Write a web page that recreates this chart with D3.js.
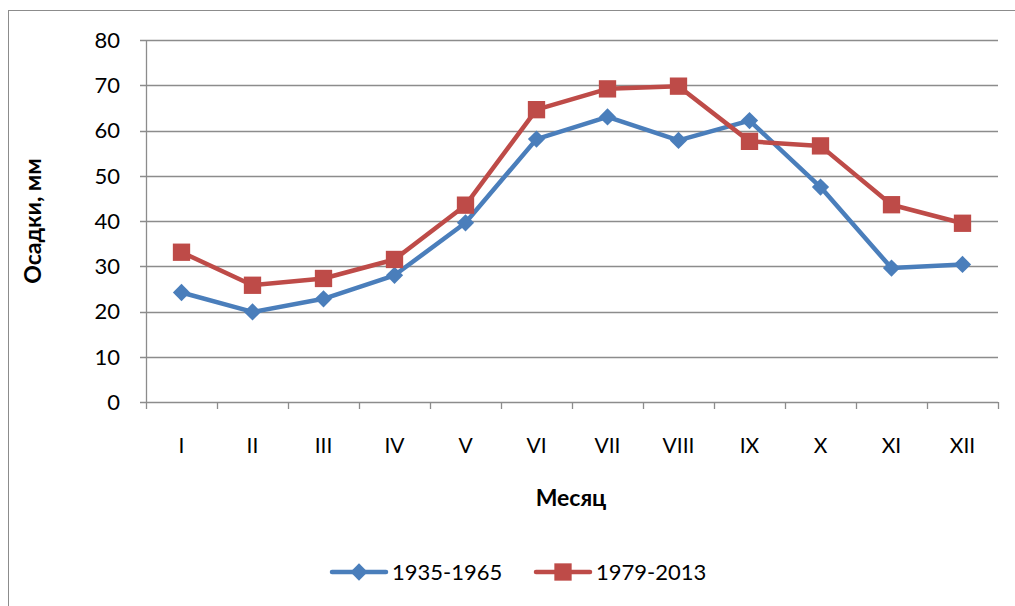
<!DOCTYPE html>
<html>
<head>
<meta charset="utf-8">
<script src="https://cdn.jsdelivr.net/npm/d3@7"></script>
<style>
  body { margin: 0; background: #fff; }
  svg { font-family: Lato, "Open Sans", sans-serif; }
</style>
</head>
<body>
<div id="chart"></div>
<script>
let months = ["I", "II", "III", "IV", "V", "VI", "VII", "VIII", "IX", "X", "XI", "XII"];
let series_old = [24.2, 19.9, 22.8, 28.0, 39.6, 58.1, 63.0, 57.8, 62.2, 47.5, 29.6, 30.4];
let series_new = [33.1, 25.8, 27.3, 31.5, 43.5, 64.6, 69.2, 69.8, 57.6, 56.6, 43.6, 39.5];
let series_names = ["1935-1965", "1979-2013"];
let y_ticks = [0, 10, 20, 30, 40, 50, 60, 70, 80];

let width = 1015, height = 606;
let margin = {left: 146, right: 17, top: 40, bottom: 204};

let svg = d3.select("#chart").append("svg")
  .attr("width", width)
  .attr("height", height);

// outer frame of the chart
svg.append("rect")
  .attr("x", 8.5).attr("y", 10.5)
  .attr("width", width + 20).attr("height", height + 20)
  .attr("fill", "none")
  .attr("stroke", "#8c8c8c")
  .attr("stroke-width", 1);

let x = d3.scaleBand()
  .domain(months)
  .range([margin.left, width - margin.right]);

let y = d3.scaleLinear()
  .domain([0, 80])
  .range([height - margin.bottom, margin.top]);

// grid lines
svg.append("g")
  .selectAll("line")
  .data(y_ticks)
  .enter().append("line")
  .attr("x1", margin.left - 6)
  .attr("x2", width - margin.right)
  .attr("y1", d => Math.round(y(d)) + 0.5)
  .attr("y2", d => Math.round(y(d)) + 0.5)
  .attr("stroke", "#8c8c8c")
  .attr("stroke-width", 1.3);

// y axis line
svg.append("line")
  .attr("x1", margin.left + 0.5).attr("x2", margin.left + 0.5)
  .attr("y1", y(80)).attr("y2", y(0))
  .attr("stroke", "#8c8c8c")
  .attr("stroke-width", 1.3);

// y tick labels
svg.append("g")
  .selectAll("text")
  .data(y_ticks)
  .enter().append("text")
  .attr("x", margin.left - 26)
  .attr("y", d => y(d))
  .attr("dy", "0.36em")
  .attr("text-anchor", "end")
  .attr("font-size", 22)
  .text(d => d);

// x tick marks
let x_bounds = months.map(m => x(m)).concat([width - margin.right]);
svg.append("g")
  .selectAll("line")
  .data(x_bounds)
  .enter().append("line")
  .attr("x1", d => Math.round(d) + 0.5)
  .attr("x2", d => Math.round(d) + 0.5)
  .attr("y1", y(0))
  .attr("y2", y(0) + 7)
  .attr("stroke", "#8c8c8c")
  .attr("stroke-width", 1.3);

// x tick labels
svg.append("g")
  .selectAll("text")
  .data(months)
  .enter().append("text")
  .attr("x", d => x(d) + x.bandwidth() / 2)
  .attr("y", 453)
  .attr("text-anchor", "middle")
  .attr("font-size", 21)
  .text(d => d);

// axis titles
svg.append("text")
  .attr("x", 571).attr("y", 506)
  .attr("text-anchor", "middle")
  .attr("font-size", 23)
  .attr("font-weight", "bold")
  .text("Месяц");

svg.append("text")
  .attr("transform", "translate(41,221) rotate(-90)")
  .attr("text-anchor", "middle")
  .attr("font-size", 23)
  .attr("font-weight", "bold")
  .text("Осадки, мм");

let colors = ["#4a7ebb", "#be4b48"];
let all_series = [series_old, series_new];

let line = d3.line()
  .x((d, i) => x(months[i]) + x.bandwidth() / 2)
  .y(d => y(d));

let diamond = d3.symbol().type(d3.symbolDiamond2).size(190);
let square = d3.symbol().type(d3.symbolSquare).size(300);
let symbols = [diamond, square];

all_series.forEach(function(s, k) {
  svg.append("path")
    .datum(s)
    .attr("d", line)
    .attr("fill", "none")
    .attr("stroke", colors[k])
    .attr("stroke-width", 4.5)
    .attr("stroke-linejoin", "round");
});

all_series.forEach(function(s, k) {
  svg.append("g")
    .selectAll("path")
    .data(s)
    .enter().append("path")
    .attr("d", symbols[k])
    .attr("transform", (d, i) => "translate(" + (x(months[i]) + x.bandwidth() / 2) + "," + y(d) + ")")
    .attr("fill", colors[k]);
});

// legend
let legend_x = [332, 536];
series_names.forEach(function(name, k) {
  let g = svg.append("g").attr("transform", "translate(" + legend_x[k] + ",572)");
  g.append("line")
    .attr("x1", 0).attr("x2", 54)
    .attr("y1", 0).attr("y2", 0)
    .attr("stroke", colors[k])
    .attr("stroke-width", 4.5)
    .attr("stroke-linecap", "round");
  g.append("path")
    .attr("d", symbols[k])
    .attr("transform", "translate(27,0)")
    .attr("fill", colors[k]);
  g.append("text")
    .attr("x", 60).attr("y", 0)
    .attr("dy", "0.36em")
    .attr("font-size", 22)
    .text(name);
});
</script>
</body>
</html>
